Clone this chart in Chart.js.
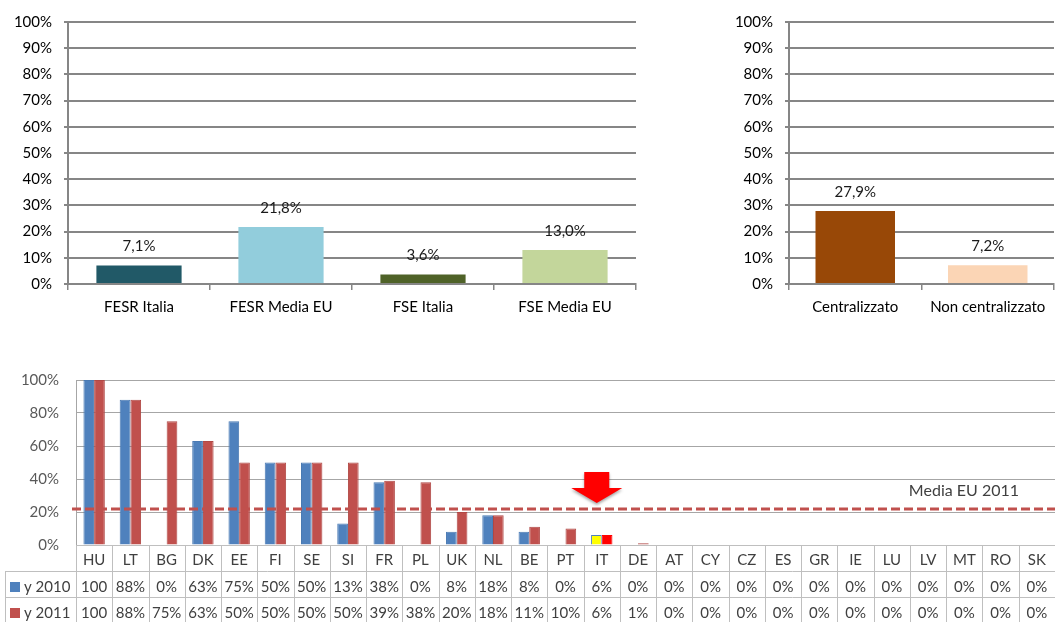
<!DOCTYPE html>
<html>
<head>
<meta charset="utf-8">
<script src="https://cdn.jsdelivr.net/npm/chart.js@4.4.1/dist/chart.umd.min.js"></script>
<style>
  body{margin:0;background:#fff;width:1055px;height:622px;overflow:hidden;position:relative;}
  canvas{position:absolute;}
  #c-fondi{left:0;top:0;}
  #c-gestione{left:680px;top:0;}
  #c-paesi{left:0;top:360px;}
</style>
</head>
<body>
<canvas id="c-fondi" width="650" height="330"></canvas>
<canvas id="c-gestione" width="375" height="330"></canvas>
<canvas id="c-paesi" width="1055" height="262"></canvas>
<script>
const FONDI_LABELS = ['FESR Italia', 'FESR Media EU', 'FSE Italia', 'FSE Media EU'];
const FONDI_VALUES = [7.1, 21.8, 3.6, 13.0];
const FONDI_COLORS = ['#215967', '#92CDDC', '#4F6228', '#C3D69B'];

const GESTIONE_LABELS = ['Centralizzato', 'Non centralizzato'];
const GESTIONE_VALUES = [27.9, 7.2];
const GESTIONE_COLORS = ['#984807', '#FBD5B5'];

const PAESI = ['HU','LT','BG','DK','EE','FI','SE','SI','FR','PL','UK','NL','BE','PT','IT','DE',
               'AT','CY','CZ','ES','GR','IE','LU','LV','MT','RO','SK'];
const Y2010 = [100,88,0,63,75,50,50,13,38,0,8,18,8,0,6,0,0,0,0,0,0,0,0,0,0,0,0];
const Y2011 = [100,88,75,63,50,50,50,50,39,38,20,18,11,10,6,1,0,0,0,0,0,0,0,0,0,0,0];
const SERIE_LABELS = ['y 2010', 'y 2011'];
const MEDIA_EU_2011 = 21.8;
const MEDIA_LABEL = 'Media EU 2011';
const EVIDENZA = 'IT';

const FONT = 'Lato, "Liberation Sans", sans-serif';
const GRID_DARK = '#868686';

// value labels above the bars of the two top charts ("7,1%")
const valueLabels = {
  id: 'valueLabels',
  afterDatasetsDraw(chart){
    const ctx = chart.ctx;
    const meta = chart.getDatasetMeta(0);
    const data = chart.data.datasets[0].data;
    ctx.save();
    ctx.font = '15px ' + FONT;
    ctx.fillStyle = '#1a1a1a';
    ctx.textAlign = 'center';
    ctx.textBaseline = 'middle';
    meta.data.forEach((bar, i)=>{
      ctx.fillText(data[i].toFixed(1).replace('.', ',') + '%', bar.x, bar.y - 19);
    });
    ctx.restore();
  }
};

function topChart(id, labels, values, colors, yWidth, padRight){
  new Chart(document.getElementById(id), {
    type: 'bar',
    data: {labels, datasets:[{data: values, backgroundColor: colors, barPercentage: 0.6, categoryPercentage: 1}]},
    options: {
      responsive: false,
      animation: false,
      layout: {padding: {top: 22, right: padRight, left: 0, bottom: 0}},
      plugins: {legend: {display: false}, tooltip: {enabled: false}},
      scales: {
        x: {
          grid: {drawOnChartArea: false, drawTicks: true, tickLength: 6, color: GRID_DARK, lineWidth: 1.5},
          border: {display: true, color: GRID_DARK, width: 2},
          ticks: {font: {family: FONT, size: 15}, color: '#000', padding: 8, maxRotation: 0, autoSkip: false},
          afterFit: s => { s.height = 46; }
        },
        y: {
          min: 0, max: 100,
          ticks: {stepSize: 10, callback: v => v + '%', font: {family: FONT, size: 15}, color: '#000', padding: 12},
          grid: {color: GRID_DARK, lineWidth: 2, tickLength: 4},
          border: {display: true, color: GRID_DARK, width: 2},
          afterFit: s => { s.width = yWidth; }
        }
      }
    },
    plugins: [valueLabels]
  });
}

// dashed EU average, its label and the arrow over Italy
const mediaLine = {
  id: 'mediaLine',
  afterDatasetsDraw(chart){
    const {ctx, chartArea, scales} = chart;
    const y = scales.y.getPixelForValue(MEDIA_EU_2011);
    ctx.save();
    ctx.strokeStyle = '#C0504D';
    ctx.lineWidth = 3;
    ctx.setLineDash([9, 4]);
    ctx.beginPath();
    ctx.moveTo(chartArea.left - 4, y);
    ctx.lineTo(chartArea.right, y);
    ctx.stroke();
    ctx.setLineDash([]);

    ctx.font = '16px ' + FONT;
    ctx.fillStyle = '#404040';
    ctx.textAlign = 'right';
    ctx.textBaseline = 'middle';
    ctx.fillText(MEDIA_LABEL, chartArea.right - 36, y - 18);

    const ax = scales.x.getPixelForValue(PAESI.indexOf(EVIDENZA)) - 5;
    ctx.fillStyle = '#FF0000';
    ctx.shadowColor = 'rgba(0,0,0,0.35)';
    ctx.shadowBlur = 3;
    ctx.shadowOffsetY = 2;
    ctx.beginPath();
    ctx.moveTo(ax - 12.5, y - 37);
    ctx.lineTo(ax + 12.5, y - 37);
    ctx.lineTo(ax + 12.5, y - 21);
    ctx.lineTo(ax + 25.5, y - 21);
    ctx.lineTo(ax, y - 6);
    ctx.lineTo(ax - 25.5, y - 21);
    ctx.lineTo(ax - 12.5, y - 21);
    ctx.closePath();
    ctx.fill();
    ctx.restore();
  }
};

// data table under the country chart
const dataTable = {
  id: 'dataTable',
  afterDraw(chart){
    const {ctx, chartArea, scales} = chart;
    const xs = scales.x;
    const n = PAESI.length;
    const colW = (chartArea.right - chartArea.left) / n;
    const top = chartArea.bottom;
    const rowH = 26;
    const bottom = chart.height;
    const legendLeft = 5;
    ctx.save();
    ctx.strokeStyle = '#BFBFBF';
    ctx.lineWidth = 1;
    ctx.beginPath();
    ctx.moveTo(chartArea.left, top + 0.5); ctx.lineTo(chartArea.right, top + 0.5);
    ctx.moveTo(legendLeft, top + rowH + 0.5); ctx.lineTo(chartArea.right, top + rowH + 0.5);
    ctx.moveTo(legendLeft, top + 2 * rowH + 0.5); ctx.lineTo(chartArea.right, top + 2 * rowH + 0.5);
    ctx.moveTo(legendLeft + 0.5, top + rowH); ctx.lineTo(legendLeft + 0.5, bottom);
    for(let i = 0; i <= n; i++){
      const x = Math.round(chartArea.left + i * colW) + 0.5;
      ctx.moveTo(x, top); ctx.lineTo(x, bottom);
    }
    ctx.stroke();

    ctx.font = '15px ' + FONT;
    ctx.fillStyle = '#404040';
    ctx.textAlign = 'center';
    ctx.textBaseline = 'middle';
    const fmt = v => v === 100 ? '100' : v + '%';
    PAESI.forEach((p, i)=>{
      const cx = xs.getPixelForValue(i);
      ctx.fillText(p, cx, top + rowH / 2 + 2);
      ctx.fillText(fmt(Y2010[i]), cx, top + rowH * 1.5 + 3);
      ctx.fillText(fmt(Y2011[i]), cx, top + rowH * 2.5 + 3);
    });

    ctx.textAlign = 'left';
    chart.data.datasets.forEach((ds, k)=>{
      const cy = top + rowH * (1.5 + k) + 3;
      ctx.fillStyle = ds.legendColor;
      ctx.fillRect(10, cy - 5, 10, 10);
      ctx.fillStyle = '#404040';
      ctx.fillText(SERIE_LABELS[k], 24, cy);
    });
    ctx.restore();
  }
};

function countryChart(){
  const hi = PAESI.indexOf(EVIDENZA);
  const col = (base, special) => PAESI.map((p, i) => i === hi ? special : base);
  new Chart(document.getElementById('c-paesi'), {
    type: 'bar',
    data: {
      labels: PAESI,
      datasets: [
        {label: SERIE_LABELS[0], data: Y2010, legendColor: '#4F81BD',
         backgroundColor: col('#4F81BD', '#FFFF00'), borderColor: col('#4A7AB3', '#4F81BD'), borderWidth: 1,
         barPercentage: 1, categoryPercentage: 0.59},
        {label: SERIE_LABELS[1], data: Y2011, legendColor: '#C0504D',
         backgroundColor: col('#C0504D', '#FF0000'), borderColor: col('#B04845', '#FF0000'), borderWidth: 1,
         barPercentage: 1, categoryPercentage: 0.59}
      ]
    },
    options: {
      responsive: false,
      animation: false,
      layout: {padding: {top: 20, right: 0, left: 0, bottom: 0}},
      plugins: {legend: {display: false}, tooltip: {enabled: false}},
      scales: {
        x: {
          grid: {display: false},
          border: {display: false},
          ticks: {display: false},
          afterFit: s => { s.height = 77; }
        },
        y: {
          min: 0, max: 100,
          ticks: {stepSize: 20, callback: v => v + '%', font: {family: FONT, size: 15}, color: '#595959', padding: 3},
          grid: {color: '#A6A6A6', lineWidth: 1, drawTicks: true, tickLength: 14, tickColor: 'rgba(0,0,0,0)'},
          border: {display: true, color: '#A6A6A6', width: 1},
          afterFit: s => { s.width = 76; }
        }
      }
    },
    plugins: [mediaLine, dataTable]
  });
}

function render(){
  topChart('c-fondi', FONDI_LABELS, FONDI_VALUES, FONDI_COLORS, 68, 14);
  topChart('c-gestione', GESTIONE_LABELS, GESTIONE_VALUES, GESTIONE_COLORS, 109, 1);
  countryChart();
}

document.addEventListener('DOMContentLoaded', render);
</script>
</body>
</html>
